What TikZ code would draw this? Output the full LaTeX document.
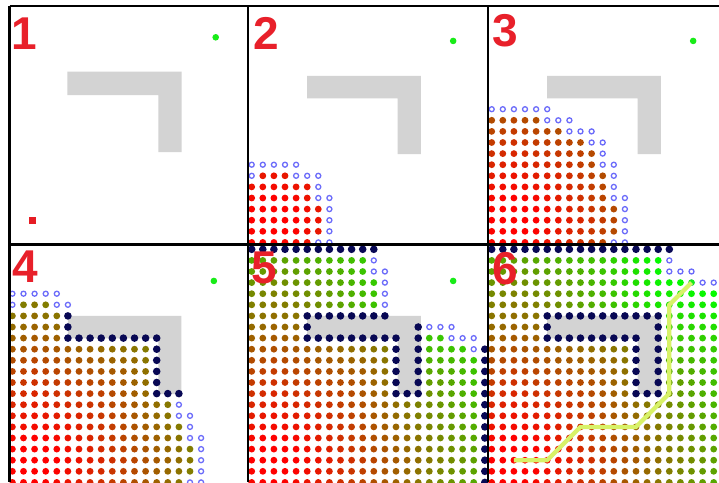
\documentclass[tikz,border=0pt]{standalone}
\usepackage{fontspec}
\newfontfamily\panelfont{Liberation Sans}
\definecolor{wallgray}{RGB}{211,211,211}
\definecolor{opencol}{RGB}{108,108,250}
\definecolor{blockcol}{RGB}{8,8,84}
\definecolor{goalcol}{RGB}{24,236,24}
\definecolor{startcol}{RGB}{230,28,36}
\definecolor{labelcol}{RGB}{232,32,42}
\definecolor{pathcol}{RGB}{216,242,104}
\newcommand\gat[2]{\csname gv\the\numexpr#1\relax:\the\numexpr#2\relax\endcsname}
\newcommand\wallshape{(5,6) -- (15.23,6) -- (15.23,13.04) -- (13.15,13.04) -- (13.15,8.02) -- (5,8.02) -- cycle}
\newcommand\drawsearch[1]{%
  \foreach \col in {0,...,21}{\foreach \row in {0,...,21}{%
    \edef\gnow{\gat{\col}{\row}}\edef\mnow{\csname mn\col:\row\endcsname}%
    \pgfmathtruncatemacro\kind{\gnow>998 ? (\mnow<#1 ? 3 : 0) : (\gnow<#1 ? 1 : (\mnow<#1 ? 2 : 0))}%
    \ifcase\kind\or
      \pgfmathtruncatemacro\pct{min(100,max(0,100*(\gnow-2)/25.3))}%
      \fill[green!\pct!red] (\col,\row) circle[radius=3.4pt];%
    \or\draw[opendot] (\col,\row) circle[radius=2.5pt];%
    \or\fill[blockcol] (\col,\row) circle[radius=3.8pt];%
    \fi}}}

\begin{document}
\begin{tikzpicture}[x=1pt,y=-1pt,
  declare function={octd(\a,\b)=max(abs(\a),abs(\b))+0.41421*min(abs(\a),abs(\b));},
  cellgrid/.style={x=11.1pt,y=-11.1pt},
  frame/.style={line width=2.2pt,black},
  opendot/.style={draw=opencol,line width=1.3pt},
  route/.style={draw=pathcol,line width=4.2pt},
  panellabel/.style={font=\panelfont\bfseries\fontsize{46}{46}\selectfont,text=labelcol,inner sep=0pt,anchor=base west}]
\fill[white] (0,0) rectangle (719,482);
\useasboundingbox (0,0) rectangle (719,482);

\foreach \i in {-1,...,22}{%
  \expandafter\xdef\csname gv\i:-1\endcsname{999}\expandafter\xdef\csname gv\i:22\endcsname{999}%
  \expandafter\xdef\csname gv-1:\i\endcsname{999}\expandafter\xdef\csname gv22:\i\endcsname{999}}
\foreach \col in {0,...,21}{\foreach \row in {0,...,21}{%
  \pgfmathparse{(\col>20||\row<1||(\col>=5&&\col<=15&&\row>=6&&\row<=8)||(\col>=13&&\col<=15&&\row>=8&&\row<=13)) ? 999 : 0.001*\row+min((((\row>=9&&\col<=12)||\row>=14||(\row<=8&&\col<=4)||(\row<=5&&\col+\row<=10)||(\col>=16&&\col+\row>=29)) ? octd(\col-2,\row-19) : 999), 13.82843+octd(\col-4,\row-6), 16.48528+octd(\col-16,\row-13))}%
  \expandafter\xdef\csname gv\col:\row\endcsname{\pgfmathresult}}}
\foreach \col in {0,...,21}{\foreach \row in {0,...,21}{%
  \edef\nbrs{\gat{\col-1}{\row-1},\gat{\col}{\row-1},\gat{\col+1}{\row-1},\gat{\col-1}{\row},\gat{\col+1}{\row},\gat{\col-1}{\row+1},\gat{\col}{\row+1},\gat{\col+1}{\row+1}}%
  \pgfmathparse{min(\nbrs)}%
  \expandafter\xdef\csname mn\col:\row\endcsname{\pgfmathresult}}}

\begin{scope}
\clip (9.5,6) rectangle (248,244.5);
\fill[wallgray] (67.3,71.7) -- (181.7,71.7) -- (181.7,152) -- (158.3,152) -- (158.3,95) -- (67.3,95) -- cycle;
\fill[goalcol] (215.7,37.3) circle[radius=3.3pt];
\fill[startcol] (29.3,217.3) rectangle (36.3,224.3);
\end{scope}

\begin{scope}
\clip (248,6) rectangle (488,244.5);
\begin{scope}[shift={(251.7,9.3)},cellgrid]
\fill[wallgray] \wallshape;
\fill[goalcol] (18.15,2.85) circle[radius=3.3pt];
\drawsearch{4.6}
\end{scope}
\end{scope}

\begin{scope}
\clip (488,6) rectangle (719,244.5);
\begin{scope}[shift={(491.7,9.3)},cellgrid]
\fill[wallgray] \wallshape;
\fill[goalcol] (18.15,2.85) circle[radius=3.3pt];
\drawsearch{9.842}
\end{scope}
\end{scope}

\begin{scope}
\clip (9.5,244.5) rectangle (248,482);
\begin{scope}[shift={(12.4,249.3)},cellgrid]
\fill[wallgray] \wallshape;
\fill[goalcol] (18.15,2.85) circle[radius=3.3pt];
\drawsearch{14.5}
\end{scope}
\end{scope}

\begin{scope}
\clip (248,244.5) rectangle (488,482);
\begin{scope}[shift={(251.7,249.3)},cellgrid]
\fill[wallgray] \wallshape;
\fill[goalcol] (18.15,2.85) circle[radius=3.3pt];
\drawsearch{22.1}
\end{scope}
\end{scope}

\begin{scope}
\clip (488,244.5) rectangle (719,482);
\begin{scope}[shift={(491.7,249.3)},cellgrid]
\fill[wallgray] \wallshape;
\drawsearch{27.3}
\fill[goalcol] (18,3) circle[radius=3.3pt];
\draw[route] (2,19) -- (5,19) -- (8,16) -- (13,16) -- (16,13) -- (16,5) -- (18,3);
\end{scope}
\end{scope}

\draw[frame] (9.5,6) -- (719,6) (9.5,244.5) -- (719,244.5);
\draw[frame] (9.5,6) -- (9.5,482) (248,6) -- (248,482) (488,6) -- (488,482);

\node[panellabel] (lbl1) at (11.7,49.3) {1};
\node[panellabel] (lbl2) at (253.6,49.3) {2};
\node[panellabel] (lbl3) at (492,46.7) {3};
\node[panellabel] (lbl4) at (12.7,282.3) {4};
\node[panellabel] (lbl5) at (251.4,283.3) {5};
\node[panellabel] (lbl6) at (492.5,284) {6};
\end{tikzpicture}
\end{document}
